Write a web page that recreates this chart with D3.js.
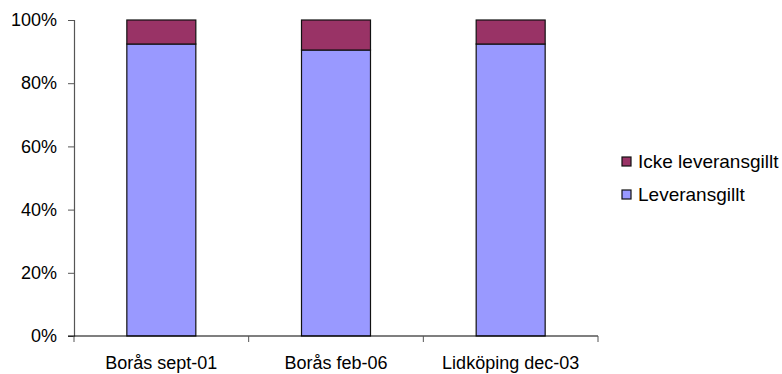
<!DOCTYPE html>
<html>
<head>
<meta charset="utf-8">
<script src="https://cdn.jsdelivr.net/npm/d3@7"></script>
<style>
  html, body { margin: 0; padding: 0; background: #fff; }
  svg { display: block; font-family: Arial, "Liberation Sans", sans-serif; }
</style>
</head>
<body>
<svg id="chart" width="782" height="374"></svg>
<script>
// Share of deliveries per survey (percent of total)
const categories = ["Borås sept-01", "Borås feb-06", "Lidköping dec-03"];
const leveransgillt = [92.4, 90.5, 92.4];
const ickeLeveransgillt = [7.6, 9.5, 7.6];
const seriesNames = ["Leveransgillt", "Icke leveransgillt"];
const seriesColors = ["#9999FF", "#993366"];
const yTicks = [0, 20, 40, 60, 80, 100];

const svg = d3.select("#chart");
const plot = { left: 74, right: 598, top: 20, bottom: 336 };

const x = d3.scaleBand()
  .domain(categories)
  .range([plot.left, plot.right])
  .paddingInner(0.605)
  .paddingOuter(0.3025);

const y = d3.scaleLinear().domain([0, 100]).range([plot.bottom, plot.top]);

const rows = categories.map((c, i) => ({
  cat: c,
  Leveransgillt: leveransgillt[i],
  "Icke leveransgillt": ickeLeveransgillt[i]
}));
const stacked = d3.stack().keys(seriesNames)(rows);

// stacked bars
svg.append("g").selectAll("g")
  .data(stacked)
  .join("g")
  .attr("fill", (d, i) => seriesColors[i])
  .selectAll("rect")
  .data(d => d)
  .join("rect")
  .attr("x", d => x(d.data.cat))
  .attr("y", d => y(d[1]))
  .attr("width", x.bandwidth())
  .attr("height", d => y(d[0]) - y(d[1]))
  .attr("stroke", "#111")
  .attr("stroke-width", 1.2);

// y axis
const yAxis = svg.append("g")
  .attr("transform", `translate(${plot.left},0)`)
  .call(d3.axisLeft(y).tickValues(yTicks).tickFormat(d => d + "%").tickSize(6).tickPadding(11));
yAxis.select(".domain").attr("stroke", "#555").attr("stroke-width", 1.2);
yAxis.selectAll(".tick line").attr("stroke", "#555");
yAxis.selectAll(".tick text")
  .attr("font-size", 18)
  .attr("font-family", "Arial, 'Liberation Sans', sans-serif")
  .attr("fill", "#000");

// x axis with ticks at category boundaries
const xAxis = svg.append("g")
  .attr("transform", `translate(0,${plot.bottom})`);
xAxis.append("line")
  .attr("x1", plot.left - 6).attr("x2", plot.right)
  .attr("y1", 0).attr("y2", 0)
  .attr("stroke", "#000").attr("stroke-width", 1.2);
const bounds = categories.map(c => x(c) - x.step() * x.paddingOuter() ).concat([plot.right]);
xAxis.selectAll(".btick")
  .data(bounds)
  .join("line")
  .attr("class", "btick")
  .attr("x1", d => d).attr("x2", d => d)
  .attr("y1", 0).attr("y2", 6)
  .attr("stroke", "#555");
xAxis.selectAll(".xlabel")
  .data(categories)
  .join("text")
  .attr("class", "xlabel")
  .attr("x", d => x(d) + x.bandwidth() / 2)
  .attr("y", 33)
  .attr("text-anchor", "middle")
  .attr("font-size", 18)
  .attr("fill", "#000")
  .text(d => d);

// legend
const legendItems = [
  { name: seriesNames[1], color: seriesColors[1] },
  { name: seriesNames[0], color: seriesColors[0] }
];
const legend = svg.append("g").attr("transform", "translate(622,157)");
const li = legend.selectAll("g")
  .data(legendItems)
  .join("g")
  .attr("transform", (d, i) => `translate(0,${i * 33})`);
li.append("rect")
  .attr("width", 9).attr("height", 9)
  .attr("fill", d => d.color)
  .attr("stroke", "#111").attr("stroke-width", 1.2);
li.append("text")
  .attr("x", 16).attr("y", 11)
  .attr("font-size", 19)
  .attr("fill", "#000")
  .text(d => d.name);
</script>
</body>
</html>
